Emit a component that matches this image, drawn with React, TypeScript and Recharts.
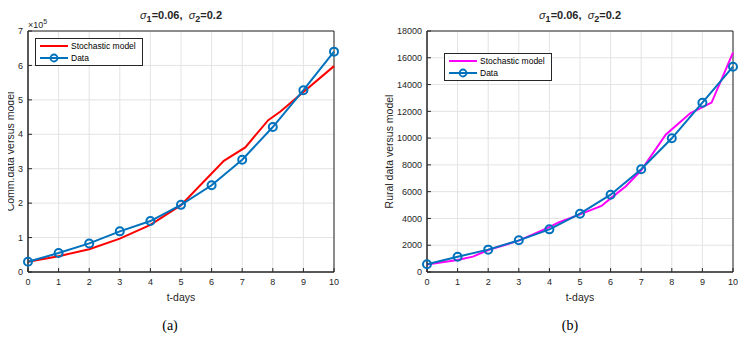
import {
  CartesianGrid,
  Label,
  Legend,
  Line,
  LineChart,
  ReferenceArea,
  XAxis,
  YAxis,
} from "recharts";

// t-days
const days = [0, 1, 2, 3, 4, 5, 6, 7, 8, 9, 10];

// (a) Comm. data, values in units of 10^5
const commData = [0.3, 0.55, 0.83, 1.18, 1.48, 1.95, 2.52, 3.26, 4.21, 5.28, 6.4];
const commModelT = [0, 1, 2, 3, 4, 5, 6.4, 7.1, 7.85, 8.25, 8.75, 10];
const commModel = [0.3, 0.46, 0.66, 0.97, 1.37, 1.94, 3.23, 3.62, 4.41, 4.66, 5.04, 5.98];
const commTicks = [0, 1, 2, 3, 4, 5, 6, 7];

// (b) Rural data
const ruralData = [575, 1143, 1670, 2365, 3185, 4357, 5775, 7670, 9985, 12645, 15335];
const ruralModelT = [0, 1, 1.5, 2, 3, 4, 4.3, 5, 5.7, 6, 6.5, 7, 7.8, 8.6, 9.3, 10];
const ruralModel = [560, 900, 1150, 1640, 2340, 3350, 3700, 4300, 4930, 5500, 6400, 7600, 10250, 11850, 12650, 16380];
const ruralTicks = [0, 2000, 4000, 6000, 8000, 10000, 12000, 14000, 16000, 18000];

const BLUE = "#0072BD";
const INK = "#262626";
const FONT = "'Liberation Sans', Arial, Helvetica, sans-serif";

const toRows = (t: number[], v: number[]) => t.map((x, i) => ({ t: x, v: v[i] }));

function LegendBox({ modelColor }: { modelColor: string }) {
  const row = (color: string, text: string, marker: boolean) => (
    <div style={{ display: "flex", alignItems: "center", height: 12 }}>
      <svg width={30} height={10} style={{ marginRight: 2 }}>
        <line x1={1} y1={5} x2={29} y2={5} stroke={color} strokeWidth={2} />
        {marker && <circle cx={15} cy={5} r={3.5} fill="none" stroke={color} strokeWidth={1.8} />}
      </svg>
      <span>{text}</span>
    </div>
  );
  return (
    <div
      style={{
        border: `1px solid ${INK}`,
        background: "#fff",
        padding: "1px 6px 1px 3px",
        fontSize: 8.5,
        color: "#000",
        fontFamily: FONT,
        lineHeight: "12px",
      }}
    >
      {row(modelColor, "Stochastic model", false)}
      {row(BLUE, "Data", true)}
    </div>
  );
}

interface PanelProps {
  left: number;
  yWidth: number;
  data: number[];
  modelT: number[];
  model: number[];
  modelColor: string;
  yTicks: number[];
  yMax: number;
  yLabel: string;
  yLabelOffset: number;
  legendPos: { left: number; top: number };
}

function Panel(p: PanelProps) {
  return (
    <div style={{ position: "absolute", left: p.left, top: 0 }}>
      <LineChart
        width={373}
        height={341}
        margin={{ top: 31, right: 373 - p.yWidth - 306, bottom: 39, left: 0 }}
      >
        <CartesianGrid stroke="#e3e3e3" strokeWidth={1} />
        <XAxis
          type="number"
          dataKey="t"
          domain={[0, 10]}
          ticks={days}
          allowDuplicatedCategory={false}
          height={30}
          tickSize={-4}
          tickMargin={11}
          axisLine={{ stroke: INK }}
          tickLine={{ stroke: INK }}
          tick={{ fill: INK, fontSize: 9 }}
        >
          <Label value="t-days" position="insideBottom" offset={1} fill={INK} fontSize={10.5} />
        </XAxis>
        <XAxis
          xAxisId="top"
          orientation="top"
          type="number"
          domain={[0, 10]}
          ticks={days}
          height={0}
          tickSize={-4}
          tick={false}
          axisLine={{ stroke: INK }}
          tickLine={{ stroke: INK }}
        />
        <YAxis
          type="number"
          domain={[0, p.yMax]}
          ticks={p.yTicks}
          width={p.yWidth}
          tickSize={-4}
          tickMargin={9}
          axisLine={{ stroke: INK }}
          tickLine={{ stroke: INK }}
          tick={{ fill: INK, fontSize: 9 }}
        >
          <Label
            value={p.yLabel}
            angle={-90}
            position="insideLeft"
            offset={p.yLabelOffset}
            fill={INK}
            fontSize={10.5}
            style={{ textAnchor: "middle" }}
          />
        </YAxis>
        <YAxis
          yAxisId="right"
          orientation="right"
          type="number"
          domain={[0, p.yMax]}
          ticks={p.yTicks}
          width={0}
          tickSize={-4}
          tick={false}
          axisLine={{ stroke: INK }}
          tickLine={{ stroke: INK }}
        />
        <ReferenceArea
          x1={0}
          x2={10}
          y1={0}
          y2={p.yMax}
          fill="none"
          stroke={INK}
          strokeWidth={1}
          ifOverflow="visible"
        />
        <Line
          data={toRows(p.modelT, p.model)}
          dataKey="v"
          stroke={p.modelColor}
          strokeWidth={2}
          dot={false}
          isAnimationActive={false}
        />
        <Line
          data={toRows(days, p.data)}
          dataKey="v"
          stroke={BLUE}
          strokeWidth={2}
          dot={{ r: 4, fill: "none", stroke: BLUE, strokeWidth: 2 }}
          isAnimationActive={false}
        />
        <Legend
          layout="vertical"
          align="center"
          verticalAlign="middle"
          wrapperStyle={{ left: p.legendPos.left, top: p.legendPos.top, width: "auto" }}
          content={() => <LegendBox modelColor={p.modelColor} />}
        />
      </LineChart>
      <div
        style={{
          position: "absolute",
          left: p.yWidth,
          top: 9,
          width: 306,
          textAlign: "center",
          fontFamily: FONT,
          fontWeight: "bold",
          fontSize: 11,
          color: INK,
          whiteSpace: "pre",
        }}
      >
        <i style={{ fontWeight: "normal" }}>σ</i>
        <sub style={{ fontSize: 9 }}>1</sub>=0.06,  <i style={{ fontWeight: "normal" }}>σ</i>
        <sub style={{ fontSize: 9 }}>2</sub>=0.2
      </div>
    </div>
  );
}

export default function App() {
  return (
    <div style={{ position: "relative", width: 746, height: 341, margin: -8, background: "#fff", fontFamily: FONT }}>
      <Panel
        left={0}
        yWidth={28}
        data={commData}
        modelT={commModelT}
        model={commModel}
        modelColor="#FF0000"
        yTicks={commTicks}
        yMax={7}
        yLabel="Comm.data versus model"
        yLabelOffset={10}
        legendPos={{ left: 35, top: 38 }}
      />
      <Panel
        left={373}
        yWidth={54}
        data={ruralData}
        modelT={ruralModelT}
        model={ruralModel}
        modelColor="#FF00FF"
        yTicks={ruralTicks}
        yMax={18000}
        yLabel="Rural data versus model"
        yLabelOffset={16}
        legendPos={{ left: 71, top: 53 }}
      />
      <div style={{ position: "absolute", left: 28, top: 20, fontSize: 9, lineHeight: "10px", color: INK }}>
        ×10
        <span style={{ position: "relative", top: -4, fontSize: 7 }}>5</span>
      </div>
      <div style={{ position: "absolute", left: 120, top: 318, width: 100, textAlign: "center", fontFamily: "serif", fontSize: 14, lineHeight: "16px", color: "#000" }}>
        (a)
      </div>
      <div style={{ position: "absolute", left: 520, top: 318, width: 100, textAlign: "center", fontFamily: "serif", fontSize: 14, lineHeight: "16px", color: "#000" }}>
        (b)
      </div>
    </div>
  );
}
